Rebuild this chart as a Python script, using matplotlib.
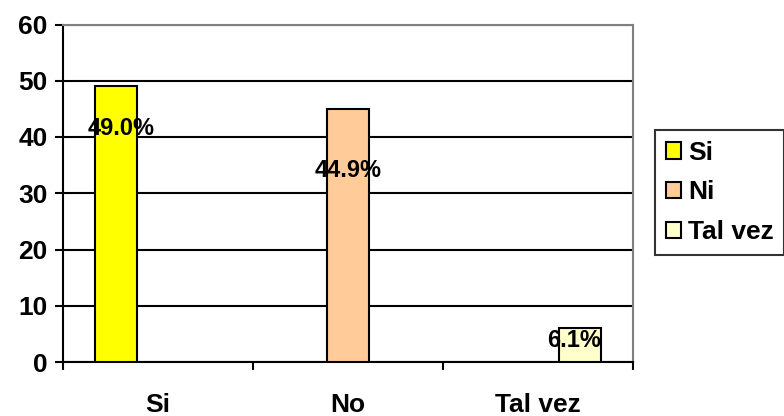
import matplotlib
matplotlib.use("Agg")
from matplotlib import pyplot as plt
import numpy as np

plt.rcParams['font.family'] = ['Liberation Sans', 'DejaVu Sans']
plt.rcParams['font.weight'] = 'bold'

categories = ['Si', 'No', 'Tal vez']
series_names = ['Si', 'Ni', 'Tal vez']
series_values = [49.0, 44.9, 6.1]
value_labels = ['49.0%', '44.9%', '6.1%']
colors = ['#FFFF00', '#FFCC99', '#FFFFCC']
# label offsets from bar top, in pixels (dx, dy)
label_offsets = [(5, -42), (0, -61), (-6, -13)]

FS = 19

fig = plt.figure(figsize=(7.84, 4.16), dpi=100)
ax = fig.add_axes([63 / 784, 1 - 362 / 416, 570 / 784, (362 - 24.5) / 416])

n = len(series_names)
gap = 1.5
width = 1.0 / (n + gap)
handles = []
for i, (name, val) in enumerate(zip(series_names, series_values)):
    x = i + (gap / 2 + i + 0.5) * width
    b = ax.bar(x, val, width=width, color=colors[i], edgecolor='black',
               linewidth=1.5, zorder=3, label=name)
    handles.append(b)
    dx, dy = label_offsets[i]
    ax.annotate(value_labels[i], xy=(x, val), xytext=(dx * 0.72, dy * 0.72),
                textcoords='offset points', ha='center', va='center',
                fontsize=17, fontweight='bold', zorder=4)

ax.set_xlim(0, 3)
ax.set_ylim(0, 60)
ax.set_yticks(np.arange(0, 61, 10))
ax.yaxis.grid(True, color='black', linewidth=1.5, zorder=0)
ax.set_xticks([0.5, 1.5, 2.5])
ax.set_xticklabels(categories)
ax.set_xticks([0, 1, 2, 3], minor=True)
ax.tick_params(axis='x', which='major', length=0, pad=22, labelsize=FS)
ax.tick_params(axis='x', which='minor', length=6, width=1.5, direction='out')
ax.tick_params(axis='y', length=6, width=1.5, labelsize=FS, pad=5)

ax.spines['left'].set_linewidth(1.5)
ax.spines['bottom'].set_linewidth(1.5)
ax.spines['top'].set_color('#808080')
ax.spines['right'].set_color('#808080')
ax.spines['top'].set_linewidth(1.5)
ax.spines['right'].set_linewidth(1.5)

leg = fig.legend(handles=handles, loc='upper left',
                 bbox_to_anchor=(655 / 784, 1 - 130 / 416),
                 fontsize=FS, frameon=True, fancybox=False,
                 edgecolor='black', handlelength=0.6, handleheight=0.6,
                 handletextpad=0.25, labelspacing=0.6, borderpad=0.4,
                 borderaxespad=0)
leg.get_frame().set_linewidth(1.5)

fig.savefig('out.png', dpi=100)
